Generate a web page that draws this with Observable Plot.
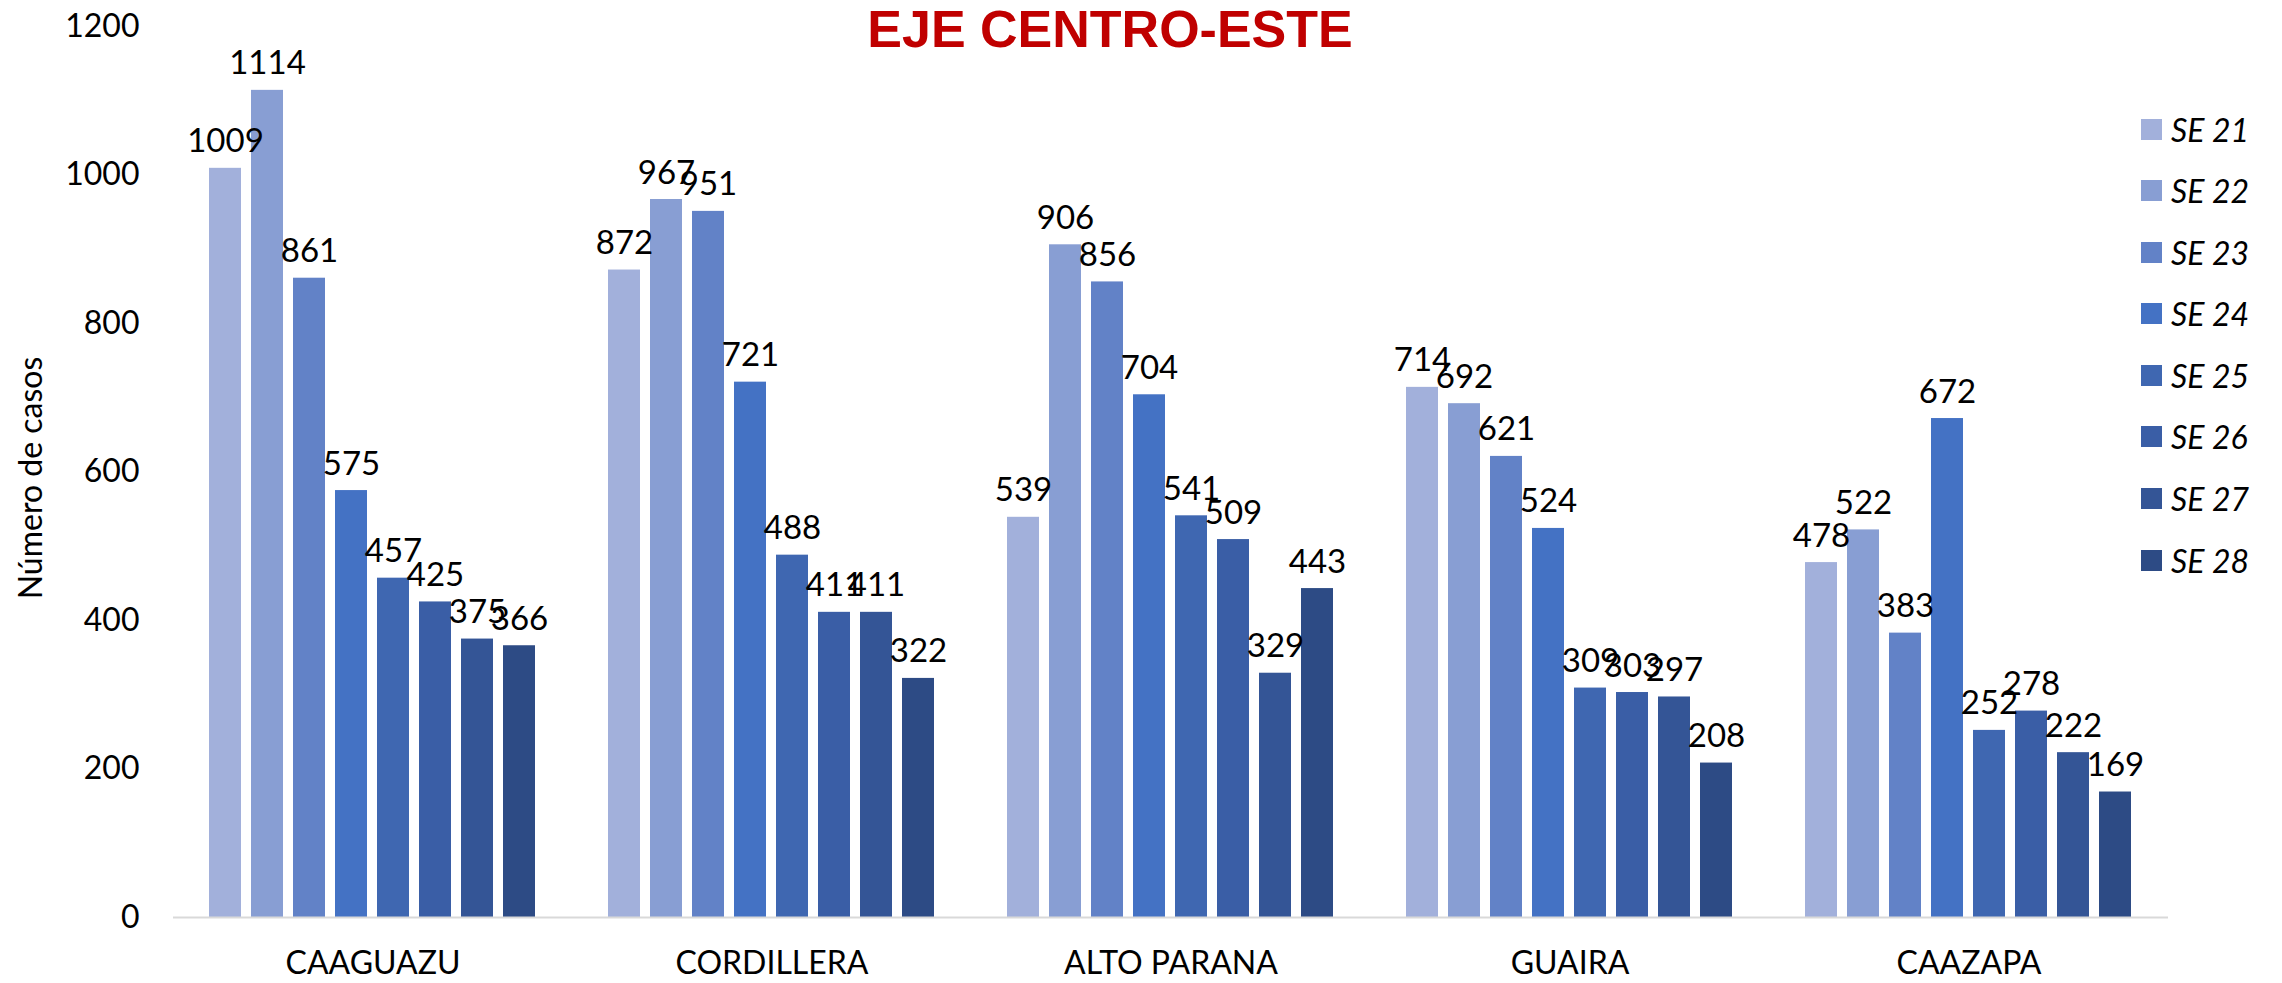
<!DOCTYPE html>
<html>
<head>
<meta charset="utf-8">
<script src="https://cdn.jsdelivr.net/npm/d3@7"></script>
<script src="https://cdn.jsdelivr.net/npm/@observablehq/plot@0.6"></script>
<style>
  html, body { margin: 0; padding: 0; background: #fff; }
  #wrap { position: relative; width: 2282px; height: 983px; overflow: hidden; font-family: Lato, "Open Sans", sans-serif; }
  #title { position: absolute; left: 1110px; top: 3px; transform: translateX(-50%); font-family: "Liberation Sans", Arial, sans-serif; font-weight: bold; font-size: 52px; color: #C00000; white-space: nowrap; line-height: 52px; }
  #ylabel { position: absolute; left: 29px; top: 478px; transform: translate(-50%, -50%) rotate(-90deg); font-size: 32px; font-family: Lato, "Open Sans", sans-serif; color: #000; white-space: nowrap; }
  #legend { position: absolute; left: 2141px; top: 113px; }
  .lg-row { display: flex; align-items: center; height: 32px; margin-bottom: 29.6px; }
  .lg-sw { width: 21px; height: 21px; margin-right: 9px; }
  .lg-tx { font-style: italic; font-size: 32px; font-family: Lato, "Open Sans", sans-serif; color: #000; }
</style>
</head>
<body>
<div id="wrap">
  <div id="title"></div>
  <div id="ylabel"></div>
  <div id="legend"></div>
</div>
<script>
const titleText = "EJE CENTRO-ESTE";
const yLabel = "Número de casos";
const regions = ["CAAGUAZU", "CORDILLERA", "ALTO PARANA", "GUAIRA", "CAAZAPA"];
const series = ["SE 21", "SE 22", "SE 23", "SE 24", "SE 25", "SE 26", "SE 27", "SE 28"];
const colors = ["#A2B0DB", "#889ED3", "#6282C7", "#4472C4", "#3F67B1", "#3A5EA6", "#345596", "#2D4B85"];
const yTicks = [0, 200, 400, 600, 800, 1000, 1200];

const caaguazu   = [1009, 1114, 861, 575, 457, 425, 375, 366];
const cordillera = [872, 967, 951, 721, 488, 411, 411, 322];
const altoParana = [539, 906, 856, 704, 541, 509, 329, 443];
const guaira     = [714, 692, 621, 524, 309, 303, 297, 208];
const caazapa    = [478, 522, 383, 672, 252, 278, 222, 169];

const valuesByRegion = [caaguazu, cordillera, altoParana, guaira, caazapa];
const rows = [];
regions.forEach((r, i) => series.forEach((s, j) => rows.push({region: r, series: s, value: valuesByRegion[i][j]})));

document.getElementById("title").textContent = titleText;
document.getElementById("ylabel").textContent = yLabel;

const chart = Plot.plot({
  width: 2282,
  height: 983,
  marginTop: 26,
  marginBottom: 66,
  marginLeft: 172,
  marginRight: 114,
  style: {fontFamily: "Lato, 'Open Sans', sans-serif", fontSize: "32px", color: "#000", background: "transparent"},
  facet: {data: rows, x: "region"},
  fx: {domain: regions, padding: 0, axis: "bottom", label: null, tickSize: 0, tickPadding: 34},
  x: {domain: series, paddingInner: 0.23, paddingOuter: 0.86, axis: null},
  y: {domain: [0, 1200], ticks: yTicks, tickFormat: d => String(d), tickSize: 0, tickPadding: 34, label: null, grid: false},
  color: {domain: series, range: colors},
  marks: [
    Plot.barY(rows, {x: "series", y: "value", fill: "series"}),
    Plot.ruleY([0], {stroke: "#d9d9d9", strokeWidth: 2}),
    Plot.text(rows, {x: "series", y: "value", text: d => String(d.value), lineAnchor: "bottom", dy: -16, fontSize: 33, fill: "#000"})
  ]
});
document.getElementById("wrap").insertBefore(chart, document.getElementById("title"));
chart.style.position = "absolute";
chart.style.left = "0px";
chart.style.top = "0px";

const legend = document.getElementById("legend");
const cs = chart.scale("color");
cs.domain.forEach((s, i) => {
  const row = document.createElement("div");
  row.className = "lg-row";
  const sw = document.createElement("div");
  sw.className = "lg-sw";
  sw.style.background = cs.range[i];
  const tx = document.createElement("span");
  tx.className = "lg-tx";
  tx.textContent = s;
  row.appendChild(sw); row.appendChild(tx);
  legend.appendChild(row);
});
</script>
</body>
</html>
